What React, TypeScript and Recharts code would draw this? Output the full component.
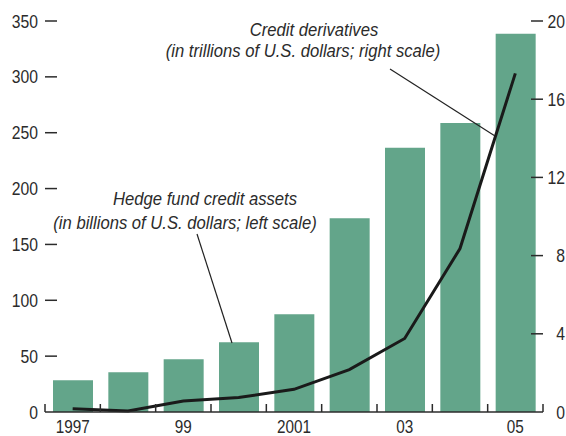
import React from "react";
import { ComposedChart, Bar, Line, XAxis, YAxis } from "recharts";

const years = ["1997", "98", "99", "2000", "01", "02", "03", "04", "05"];
const xLabels = ["1997", "", "99", "", "2001", "", "03", "", "05"];
// hedge fund credit assets, billions USD (left)
const hedgeAssets = [28.5, 35.6, 47.2, 62.4, 87.5, 173.5, 236.5, 258.6, 338.6];
// credit derivatives, trillions USD (right)
const creditDeriv = [0.17, 0.05, 0.56, 0.74, 1.16, 2.17, 3.76, 8.36, 17.32];
const leftTicks = [0, 50, 100, 150, 200, 250, 300, 350];
const rightTicks = [0, 4, 8, 12, 16, 20];

const data = years.map((y, i) => ({
  year: y,
  hedge: hedgeAssets[i],
  deriv: creditDeriv[i],
}));

const W = 566;
const H = 436;
const LEFT_W = 45;
const RIGHT_W = 23;
const TOP = 21;
const X_H = 24;
const BAND = (W - LEFT_W - RIGHT_W) / years.length;

const FONT = "'Liberation Sans', Arial, sans-serif";
const INK = "#2b2b2b";
const SQ = 0.85; // squeeze to mimic a condensed face

// condensed-looking text
function NarrowText({ x, y, anchor, size, italic, sq = SQ, children }: any) {
  return (
    <text
      transform={`translate(${x},${y}) scale(${sq},1)`}
      textAnchor={anchor}
      fill={INK}
      fontSize={size}
      fontStyle={italic ? "italic" : "normal"}
      fontFamily={FONT}
    >
      {children}
    </text>
  );
}

function LeftTick({ x, y, payload }: any) {
  return (
    <g>
      {payload.value !== 0 && (
        <line x1={x} x2={x + 12} y1={y} y2={y} stroke={INK} strokeWidth={1.5} />
      )}
      <NarrowText x={x - 7} y={y + 6.5} anchor="end" size={18.5}>
        {payload.value}
      </NarrowText>
    </g>
  );
}

function RightTick({ x, y, payload }: any) {
  return (
    <g>
      {payload.value !== 0 && (
        <line x1={x - 12} x2={x} y1={y} y2={y} stroke={INK} strokeWidth={1.5} />
      )}
      <NarrowText x={x + RIGHT_W - 1} y={y + 6.5} anchor="end" size={18.5}>
        {payload.value}
      </NarrowText>
    </g>
  );
}

function XTick({ x, y, index }: any) {
  const last = index === years.length - 1;
  return (
    <g>
      <line x1={x - BAND / 2} x2={x - BAND / 2} y1={y} y2={y - 8} stroke={INK} strokeWidth={1.5} />
      {last && (
        <line x1={x + BAND / 2} x2={x + BAND / 2} y1={y} y2={y - 8} stroke={INK} strokeWidth={1.5} />
      )}
      {xLabels[index] && (
        <NarrowText x={x} y={y + 21} anchor="middle" size={18}>
          {xLabels[index]}
        </NarrowText>
      )}
    </g>
  );
}

export default function App() {
  return (
    <div style={{ position: "absolute", left: 0, top: 0, width: W, height: H, background: "#fff" }}>
      <ComposedChart
        width={W}
        height={H}
        data={data}
        barSize={40}
        margin={{ top: TOP, right: 0, bottom: 0, left: 0 }}
      >
        <XAxis
          dataKey="year"
          interval={0}
          height={X_H}
          tickSize={0}
          tickMargin={0}
          tickLine={false}
          axisLine={{ stroke: INK, strokeWidth: 1.5 }}
          tick={<XTick />}
        />
        <YAxis
          yAxisId="left"
          orientation="left"
          width={LEFT_W}
          domain={[0, 350]}
          ticks={leftTicks}
          tickSize={0}
          tickMargin={0}
          tickLine={false}
          axisLine={false}
          tick={<LeftTick />}
        />
        <YAxis
          yAxisId="right"
          orientation="right"
          width={RIGHT_W}
          domain={[0, 20]}
          ticks={rightTicks}
          tickSize={0}
          tickMargin={0}
          tickLine={false}
          axisLine={false}
          tick={<RightTick />}
        />
        <Bar yAxisId="left" dataKey="hedge" fill="#63a58a" isAnimationActive={false} />
        <Line
          yAxisId="right"
          type="linear"
          dataKey="deriv"
          stroke="#1a1a1a"
          strokeWidth={3}
          dot={false}
          activeDot={false}
          isAnimationActive={false}
        />
      </ComposedChart>
      <svg
        width={W}
        height={H}
        style={{ position: "absolute", left: 0, top: 0, pointerEvents: "none" }}
      >
        <NarrowText x={314} y={36} anchor="middle" size={18.5} italic sq={0.9}>
          Credit derivatives
        </NarrowText>
        <NarrowText x={303} y={57} anchor="middle" size={18.5} italic sq={0.9}>
          (in trillions of U.S. dollars; right scale)
        </NarrowText>
        <NarrowText x={205} y={205} anchor="middle" size={18.5} italic sq={0.9}>
          Hedge fund credit assets
        </NarrowText>
        <NarrowText x={185} y={229} anchor="middle" size={18.5} italic sq={0.9}>
          (in billions of U.S. dollars; left scale)
        </NarrowText>
        <line x1={390} y1={69} x2={495} y2={136} stroke="#222" strokeWidth={1.2} />
        <line x1={197} y1={234} x2={232} y2={343} stroke="#222" strokeWidth={1.2} />
      </svg>
    </div>
  );
}
